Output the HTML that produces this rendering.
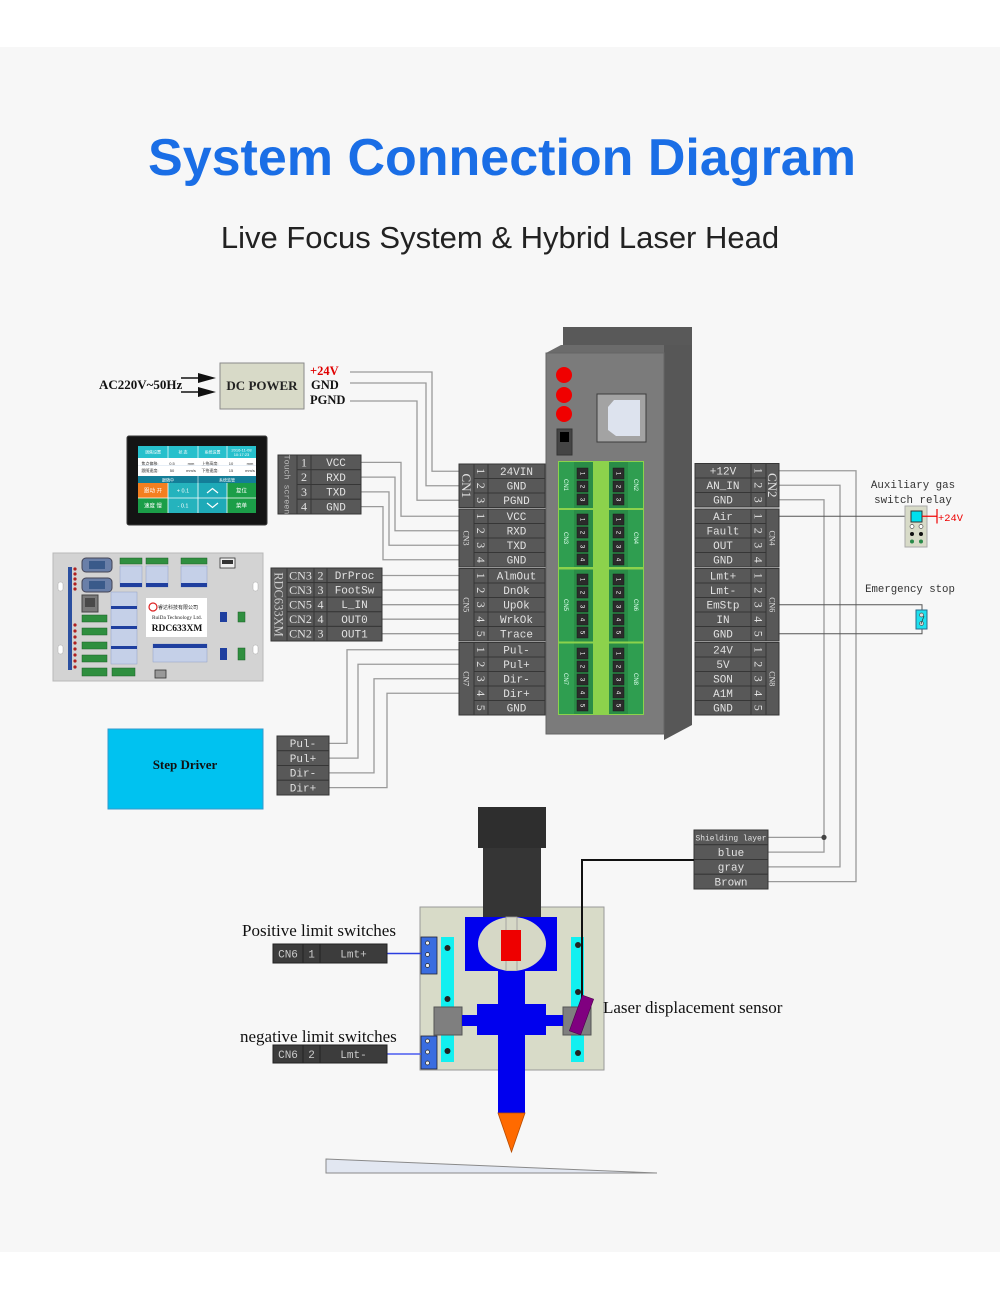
<!DOCTYPE html>
<html><head><meta charset="utf-8"><style>
html,body{margin:0;padding:0;background:#fff;}
svg{display:block}
.c{fill:#585858;stroke:#363636;stroke-width:1}
.d{fill:#3c3c3c;stroke:#222;stroke-width:1}
.t{font-family:"Liberation Mono",monospace;font-size:11px;fill:#e2e2e2;text-anchor:middle}
.n{font-family:"Liberation Serif",serif;font-size:12px;fill:#e2e2e2;text-anchor:middle}
.w{fill:none;stroke:#9a9a9a;stroke-width:1.3}
.k{fill:none;stroke:#555;stroke-width:1}
.bs{font-family:"Liberation Serif",serif;font-weight:bold}
.sq{fill:#2b2b2b;stroke:#1a1a1a;stroke-width:.5}
.sn{font-family:"Liberation Sans",sans-serif;font-size:6px;fill:#fff;text-anchor:middle}
.gl{font-family:"Liberation Sans",sans-serif;font-size:6px;fill:#dfe;text-anchor:middle}
.ts{font-family:"Liberation Sans","Noto Sans CJK SC",sans-serif;font-size:4px;text-anchor:middle}
.lbl{font-family:"Liberation Serif",serif;font-size:17px;fill:#111}
.mono{font-family:"Liberation Mono",monospace;fill:#333}
</style></head><body>
<svg width="1000" height="1299" viewBox="0 0 1000 1299" xmlns="http://www.w3.org/2000/svg">
<rect x="0" y="0" width="1000" height="1299" fill="#ffffff"/>
<rect x="0" y="47" width="1000" height="1205" fill="#f7f7f7"/>

<!-- Titles -->
<text x="502" y="175" text-anchor="middle" font-family="Liberation Sans, sans-serif" font-weight="bold" font-size="52" fill="#1a6ee6">System Connection Diagram</text>
<text x="500" y="248" text-anchor="middle" font-family="Liberation Sans, sans-serif" font-size="31" fill="#222">Live Focus System &amp; Hybrid Laser Head</text>

<!-- AC / DC power -->
<text class="bs" x="99" y="389" font-size="13" fill="#111">AC220V~50Hz</text>
<line x1="181" y1="378" x2="200" y2="378" stroke="#111" stroke-width="1.5"/>
<polygon points="198,373 216,378 198,383" fill="#111"/>
<line x1="181" y1="392" x2="200" y2="392" stroke="#111" stroke-width="1.5"/>
<polygon points="198,387 216,392 198,397" fill="#111"/>
<rect x="220" y="363" width="84" height="46" fill="#d8dac8" stroke="#8a8a8a" stroke-width="1"/>
<text class="bs" x="262" y="390" font-size="13" text-anchor="middle" fill="#222">DC POWER</text>
<text class="bs" x="310" y="375" font-size="12.5" fill="#e00000">+24V</text>
<text class="bs" x="311" y="389" font-size="12.5" fill="#111">GND</text>
<text class="bs" x="310" y="404" font-size="12.5" fill="#111">PGND</text>

<!-- wires left -->
<polyline class="w" points="350,372 432,372 432,471.25 459,471.25"/>
<polyline class="w" points="350,383 426,383 426,485.75 459,485.75"/>
<polyline class="w" points="350,401 417,401 417,500.25 459,500.25"/>
<polyline class="w" points="361,462.4 401,462.4 401,516.25 459,516.25"/>
<polyline class="w" points="361,477.1 395,477.1 395,530.75 459,530.75"/>
<polyline class="w" points="361,491.9 389,491.9 389,545.25 459,545.25"/>
<polyline class="w" points="361,506.6 383,506.6 383,559.75 459,559.75"/>
<line class="w" x1="382" y1="575.5" x2="459" y2="575.5"/>
<line class="w" x1="382" y1="590" x2="459" y2="590"/>
<line class="w" x1="382" y1="604.7" x2="459" y2="604.7"/>
<line class="w" x1="382" y1="619.2" x2="459" y2="619.2"/>
<line class="w" x1="382" y1="633.7" x2="459" y2="633.7"/>
<polyline class="w" points="329,743.4 347,743.4 347,649.75 459,649.75"/>
<polyline class="w" points="329,758.1 358,758.1 358,664.25 459,664.25"/>
<polyline class="w" points="329,772.9 374,772.9 374,678.75 459,678.75"/>
<polyline class="w" points="329,787.6 387,787.6 387,693.25 459,693.25"/>

<!-- wires right -->
<polyline class="w" points="779,470.75 856,470.75 856,881.6 768,881.6"/>
<polyline class="w" points="779,485.25 840,485.25 840,866.9 768,866.9"/>
<polyline class="w" points="779,499.75 824,499.75 824,837.4 768,837.4"/>
<polyline class="w" points="768,852.1 824,852.1 824,837.4"/>
<circle cx="824" cy="837.4" r="2.6" fill="#444"/>
<line class="k" x1="779" y1="516.25" x2="911" y2="516.25"/>
<polyline class="k" points="779,604.75 922,604.75 922,611"/>
<polyline class="k" points="779,633.75 922,633.75 922,628"/>

<!-- Touch screen -->
<rect x="127" y="436" width="140" height="89" rx="2" fill="#141414" stroke="#3a3a3a"/>
<rect x="138" y="446" width="118" height="67" fill="#fff"/>
<rect x="138" y="446" width="118" height="12" fill="#27c0cc"/>
<line x1="168" y1="446" x2="168" y2="458" stroke="#fff" stroke-width=".7"/>
<line x1="198" y1="446" x2="198" y2="458" stroke="#fff" stroke-width=".7"/>
<line x1="227" y1="446" x2="227" y2="458" stroke="#fff" stroke-width=".7"/>
<text class="ts" x="153" y="453.5" fill="#fff">调焦设置</text>
<text class="ts" x="183" y="453.5" fill="#fff">状 态</text>
<text class="ts" x="212.5" y="453.5" fill="#fff">系统设置</text>
<text class="ts" x="241.5" y="451.5" fill="#fff">2016-11-08</text>
<text class="ts" x="241.5" y="456" fill="#fff">10:17:23</text>
<text class="ts" x="150" y="465" fill="#333">焦点偏移:</text>
<text class="ts" x="172" y="465" fill="#333">0.5</text>
<text class="ts" x="191" y="465" fill="#333">mm</text>
<text class="ts" x="210" y="465" fill="#333">上抬高度:</text>
<text class="ts" x="231" y="465" fill="#333">10</text>
<text class="ts" x="250" y="465" fill="#333">mm</text>
<text class="ts" x="150" y="472" fill="#333">跟随速度:</text>
<text class="ts" x="172" y="472" fill="#333">50</text>
<text class="ts" x="191" y="472" fill="#333">mm/s</text>
<text class="ts" x="210" y="472" fill="#333">下抬速度:</text>
<text class="ts" x="231" y="472" fill="#333">15</text>
<text class="ts" x="250" y="472" fill="#333">mm/s</text>
<line x1="138" y1="465.5" x2="256" y2="465.5" stroke="#cde" stroke-width=".5"/>
<rect x="138" y="476" width="118" height="7" fill="#137e98"/>
<line x1="198" y1="476" x2="198" y2="483" stroke="#fff" stroke-width=".6"/>
<text class="ts" x="168" y="481.3" fill="#fff">跟随中</text>
<text class="ts" x="227" y="481.3" fill="#fff">系统监管</text>
<rect x="138" y="483" width="30" height="15" fill="#f47f20"/>
<rect x="168" y="483" width="30" height="15" fill="#25b3bd"/>
<rect x="198" y="483" width="29" height="15" fill="#1eaab8"/>
<rect x="227" y="483" width="29" height="15" fill="#1b9e48"/>
<rect x="138" y="498" width="30" height="15" fill="#1b9e48"/>
<rect x="168" y="498" width="30" height="15" fill="#25b3bd"/>
<rect x="198" y="498" width="29" height="15" fill="#1eaab8"/>
<rect x="227" y="498" width="29" height="15" fill="#1b9e48"/>
<g stroke="#fff" stroke-width=".8"><line x1="138" y1="498" x2="256" y2="498"/><line x1="168" y1="483" x2="168" y2="513"/><line x1="198" y1="483" x2="198" y2="513"/><line x1="227" y1="483" x2="227" y2="513"/></g>
<text class="ts" x="153" y="492.5" fill="#fff" style="font-size:5.5px">跟动 开</text>
<text class="ts" x="183" y="492.5" fill="#fff" style="font-size:5.5px">+ 0.1</text>
<text class="ts" x="241.5" y="492.5" fill="#fff" style="font-size:5.5px">复位</text>
<text class="ts" x="153" y="507.5" fill="#fff" style="font-size:5.5px">速度 慢</text>
<text class="ts" x="183" y="507.5" fill="#fff" style="font-size:5.5px">- 0.1</text>
<text class="ts" x="241.5" y="507.5" fill="#fff" style="font-size:5.5px">菜单</text>
<polyline points="207,493 212.5,488.5 218,493" fill="none" stroke="#fff" stroke-width="1.2"/>
<polyline points="207,503 212.5,507.5 218,503" fill="none" stroke="#fff" stroke-width="1.2"/>

<!-- Touch screen connector -->
<rect class="c" x="278" y="455" width="19" height="59"/>
<text class="t" transform="translate(287.5,484.5) rotate(90)" dy="3" style="fill:#bbb;font-size:8.3px">Touch screen</text>
<rect class="c" x="297" y="455" width="14" height="14.75"/><rect class="c" x="311" y="455" width="50" height="14.75"/>
<rect class="c" x="297" y="469.75" width="14" height="14.75"/><rect class="c" x="311" y="469.75" width="50" height="14.75"/>
<rect class="c" x="297" y="484.5" width="14" height="14.75"/><rect class="c" x="311" y="484.5" width="50" height="14.75"/>
<rect class="c" x="297" y="499.25" width="14" height="14.75"/><rect class="c" x="311" y="499.25" width="50" height="14.75"/>
<text class="n" x="304" y="466.5">1</text><text class="t" x="336" y="466.2">VCC</text>
<text class="n" x="304" y="481.2">2</text><text class="t" x="336" y="481">RXD</text>
<text class="n" x="304" y="496">3</text><text class="t" x="336" y="495.7">TXD</text>
<text class="n" x="304" y="510.7">4</text><text class="t" x="336" y="510.5">GND</text>

<!-- RDC633XM board -->
<rect x="53" y="553" width="210" height="128" fill="#d3d3d3" stroke="#b8b8b8"/>
<rect x="58" y="582" width="5" height="9" rx="2" fill="#fff" stroke="#aaa" stroke-width=".5"/>
<rect x="58" y="645" width="5" height="9" rx="2" fill="#fff" stroke="#aaa" stroke-width=".5"/>
<rect x="253" y="582" width="5" height="9" rx="2" fill="#fff" stroke="#aaa" stroke-width=".5"/>
<rect x="253" y="645" width="5" height="9" rx="2" fill="#fff" stroke="#aaa" stroke-width=".5"/>
<rect x="68" y="567" width="4" height="103" fill="#2a4fa0"/>
<g fill="#b02020"><circle cx="75" cy="569" r="1.6"/><circle cx="75" cy="574" r="1.6"/><circle cx="75" cy="579" r="1.6"/><circle cx="75" cy="584" r="1.6"/><circle cx="75" cy="589" r="1.6"/><circle cx="75" cy="625" r="1.6"/><circle cx="75" cy="631" r="1.6"/><circle cx="75" cy="637" r="1.6"/><circle cx="75" cy="643" r="1.6"/><circle cx="75" cy="649" r="1.6"/><circle cx="75" cy="655" r="1.6"/><circle cx="75" cy="661" r="1.6"/><circle cx="75" cy="667" r="1.6"/></g>
<rect x="82" y="558" width="30" height="14" rx="4" fill="#6a7fa8" stroke="#445"/>
<rect x="89" y="561" width="16" height="8" fill="#3a5a8a"/>
<rect x="82" y="578" width="30" height="14" rx="4" fill="#6a7fa8" stroke="#445"/>
<rect x="89" y="581" width="16" height="8" fill="#3a5a8a"/>
<rect x="82" y="595" width="16" height="17" fill="#7a7a7a" stroke="#444"/>
<rect x="85" y="598" width="10" height="9" fill="#4a4a4a"/>
<g fill="#2f8f3f" stroke="#1d5e28" stroke-width=".5">
<rect x="82" y="615" width="25" height="7"/><rect x="82" y="628" width="25" height="7"/><rect x="82" y="642" width="25" height="7"/><rect x="82" y="655" width="25" height="7"/><rect x="82" y="668" width="25" height="8"/><rect x="112" y="668" width="23" height="8"/>
<rect x="120" y="558" width="22" height="6"/><rect x="146" y="558" width="22" height="6"/><rect x="181" y="558" width="26" height="6"/>
<rect x="238" y="612" width="7" height="10"/><rect x="238" y="648" width="7" height="12"/>
</g>
<g fill="#c5d0e8" stroke="#8fa0c8" stroke-width=".5">
<rect x="120" y="566" width="22" height="21"/><rect x="146" y="566" width="22" height="21"/><rect x="181" y="566" width="26" height="21"/>
<rect x="111" y="592" width="26" height="72"/><rect x="153" y="644" width="54" height="18"/>
</g>
<g fill="#1f3f9f">
<rect x="120" y="583" width="22" height="4"/><rect x="146" y="583" width="22" height="4"/><rect x="181" y="583" width="26" height="4"/>
<rect x="111" y="606" width="26" height="3"/><rect x="111" y="626" width="26" height="3"/><rect x="111" y="646" width="26" height="3"/>
<rect x="153" y="644" width="54" height="4"/>
<rect x="220" y="612" width="7" height="10"/><rect x="220" y="648" width="7" height="12"/>
</g>
<rect x="220" y="558" width="15" height="10" fill="#eee" stroke="#333" stroke-width=".8"/>
<rect x="222" y="560" width="11" height="4" fill="#333"/>
<rect x="155" y="670" width="11" height="8" fill="#999" stroke="#333" stroke-width=".8"/>
<rect x="146" y="598" width="61" height="39" fill="#fff"/>
<circle cx="153" cy="607" r="4" fill="none" stroke="#d22" stroke-width="1.2"/>
<text x="158" y="609" font-family="Liberation Sans, Noto Sans CJK SC, sans-serif" font-size="5" fill="#222">睿达科技有限公司</text>
<text x="152" y="619" font-family="Liberation Serif, serif" font-size="5.3" fill="#222">RuiDa Technology Ltd.</text>
<text class="bs" x="177" y="631" font-size="9.5" text-anchor="middle" fill="#111">RDC633XM</text>

<!-- RDC connector block -->
<rect class="c" x="271" y="568" width="16" height="73"/>
<text class="n" transform="translate(279,604.5) rotate(90)" dy="4.5" style="fill:#ccc;font-size:12.5px">RDC633XM</text>
<g>
<rect class="c" x="287" y="568" width="27" height="14.6"/><rect class="c" x="314" y="568" width="13" height="14.6"/><rect class="c" x="327" y="568" width="55" height="14.6"/>
<rect class="c" x="287" y="582.6" width="27" height="14.6"/><rect class="c" x="314" y="582.6" width="13" height="14.6"/><rect class="c" x="327" y="582.6" width="55" height="14.6"/>
<rect class="c" x="287" y="597.2" width="27" height="14.6"/><rect class="c" x="314" y="597.2" width="13" height="14.6"/><rect class="c" x="327" y="597.2" width="55" height="14.6"/>
<rect class="c" x="287" y="611.8" width="27" height="14.6"/><rect class="c" x="314" y="611.8" width="13" height="14.6"/><rect class="c" x="327" y="611.8" width="55" height="14.6"/>
<rect class="c" x="287" y="626.4" width="27" height="14.6"/><rect class="c" x="314" y="626.4" width="13" height="14.6"/><rect class="c" x="327" y="626.4" width="55" height="14.6"/>
</g>
<text class="n" x="300.5" y="579.3">CN3</text><text class="n" x="320.5" y="579.3">2</text><text class="t" x="354.5" y="579">DrProc</text>
<text class="n" x="300.5" y="593.9">CN3</text><text class="n" x="320.5" y="593.9">3</text><text class="t" x="354.5" y="593.6">FootSw</text>
<text class="n" x="300.5" y="608.5">CN5</text><text class="n" x="320.5" y="608.5">4</text><text class="t" x="354.5" y="608.2">L_IN</text>
<text class="n" x="300.5" y="623.1">CN2</text><text class="n" x="320.5" y="623.1">4</text><text class="t" x="354.5" y="622.8">OUT0</text>
<text class="n" x="300.5" y="637.7">CN2</text><text class="n" x="320.5" y="637.7">3</text><text class="t" x="354.5" y="637.4">OUT1</text>

<!-- Step driver -->
<rect x="108" y="729" width="155" height="80" fill="#00c2f0" stroke="#3399cc"/>
<text class="bs" x="185" y="769" font-size="13" text-anchor="middle" fill="#111">Step Driver</text>
<rect class="c" x="277" y="736" width="52" height="14.75"/>
<rect class="c" x="277" y="750.75" width="52" height="14.75"/>
<rect class="c" x="277" y="765.5" width="52" height="14.75"/>
<rect class="c" x="277" y="780.25" width="52" height="14.75"/>
<text class="t" x="303" y="747.2">Pul-</text>
<text class="t" x="303" y="762">Pul+</text>
<text class="t" x="303" y="776.7">Dir-</text>
<text class="t" x="303" y="791.5">Dir+</text>

<!-- Central device -->
<rect x="563" y="327" width="129" height="20" fill="#595959"/>
<polygon points="561,345 664,345 664,353 546,353" fill="#6b6b6b"/>
<polygon points="664,345 692,345 692,725 664,740" fill="#575757"/>
<rect x="546" y="353" width="118" height="381" fill="#7b7b7b" stroke="#666"/>
<circle cx="564" cy="375" r="8" fill="#f00000"/>
<circle cx="564" cy="395" r="8" fill="#f00000"/>
<circle cx="564" cy="414" r="8" fill="#f00000"/>
<rect x="557" y="429" width="15" height="26" fill="#444" stroke="#333"/>
<rect x="560" y="432" width="9" height="10" fill="#000"/>
<rect x="597" y="394" width="49" height="48" fill="#a3a3a3" stroke="#3c3c3c" stroke-width="1"/>
<polygon points="614,400 640,400 640,436 616,436 608,430 608,407" fill="#dde3ee"/>

<!-- green terminal area -->
<rect x="558" y="461" width="86" height="254" fill="#8cd24c"/>
<g fill="#2f9e50">
<rect x="559" y="462" width="34" height="46"/><rect x="609" y="462" width="34" height="46"/>
<rect x="559" y="510" width="34" height="57"/><rect x="609" y="510" width="34" height="57"/>
<rect x="559" y="569.5" width="34" height="72"/><rect x="609" y="569.5" width="34" height="72"/>
<rect x="559" y="643.5" width="34" height="70.5"/><rect x="609" y="643.5" width="34" height="70.5"/>
</g>
<g fill="#2a8c47">
<rect x="574" y="462" width="19" height="46"/><rect x="609" y="462" width="19" height="46"/>
<rect x="574" y="510" width="19" height="57"/><rect x="609" y="510" width="19" height="57"/>
<rect x="574" y="569.5" width="19" height="72"/><rect x="609" y="569.5" width="19" height="72"/>
<rect x="574" y="643.5" width="19" height="70.5"/><rect x="609" y="643.5" width="19" height="70.5"/>
</g>
<text class="gl" transform="translate(566,485) rotate(90)" dy="2">CN1</text>
<text class="gl" transform="translate(636,485) rotate(90)" dy="2">CN2</text>
<text class="gl" transform="translate(566,538) rotate(90)" dy="2">CN3</text>
<text class="gl" transform="translate(636,538) rotate(90)" dy="2">CN4</text>
<text class="gl" transform="translate(566,605) rotate(90)" dy="2">CN5</text>
<text class="gl" transform="translate(636,605) rotate(90)" dy="2">CN6</text>
<text class="gl" transform="translate(566,679) rotate(90)" dy="2">CN7</text>
<text class="gl" transform="translate(636,679) rotate(90)" dy="2">CN8</text>
<!-- squares -->
<g>
<rect class="sq" x="577" y="468" width="11" height="11"/><rect class="sq" x="613" y="468" width="11" height="11"/>
<rect class="sq" x="577" y="481" width="11" height="11"/><rect class="sq" x="613" y="481" width="11" height="11"/>
<rect class="sq" x="577" y="494" width="11" height="11"/><rect class="sq" x="613" y="494" width="11" height="11"/>
<rect class="sq" x="577" y="514" width="11" height="11"/><rect class="sq" x="613" y="514" width="11" height="11"/>
<rect class="sq" x="577" y="527" width="11" height="11"/><rect class="sq" x="613" y="527" width="11" height="11"/>
<rect class="sq" x="577" y="541" width="11" height="11"/><rect class="sq" x="613" y="541" width="11" height="11"/>
<rect class="sq" x="577" y="554" width="11" height="11"/><rect class="sq" x="613" y="554" width="11" height="11"/>
<rect class="sq" x="577" y="574" width="11" height="11"/><rect class="sq" x="613" y="574" width="11" height="11"/>
<rect class="sq" x="577" y="587" width="11" height="11"/><rect class="sq" x="613" y="587" width="11" height="11"/>
<rect class="sq" x="577" y="601" width="11" height="11"/><rect class="sq" x="613" y="601" width="11" height="11"/>
<rect class="sq" x="577" y="614" width="11" height="11"/><rect class="sq" x="613" y="614" width="11" height="11"/>
<rect class="sq" x="577" y="627" width="11" height="11"/><rect class="sq" x="613" y="627" width="11" height="11"/>
<rect class="sq" x="577" y="648" width="11" height="11"/><rect class="sq" x="613" y="648" width="11" height="11"/>
<rect class="sq" x="577" y="661" width="11" height="11"/><rect class="sq" x="613" y="661" width="11" height="11"/>
<rect class="sq" x="577" y="674" width="11" height="11"/><rect class="sq" x="613" y="674" width="11" height="11"/>
<rect class="sq" x="577" y="687" width="11" height="11"/><rect class="sq" x="613" y="687" width="11" height="11"/>
<rect class="sq" x="577" y="700" width="11" height="11"/><rect class="sq" x="613" y="700" width="11" height="11"/>
</g>
<g>
<text class="sn" transform="translate(582.5,473.5) rotate(90)" dy="2">1</text><text class="sn" transform="translate(618.5,473.5) rotate(90)" dy="2">1</text>
<text class="sn" transform="translate(582.5,486.5) rotate(90)" dy="2">2</text><text class="sn" transform="translate(618.5,486.5) rotate(90)" dy="2">2</text>
<text class="sn" transform="translate(582.5,499.5) rotate(90)" dy="2">3</text><text class="sn" transform="translate(618.5,499.5) rotate(90)" dy="2">3</text>
<text class="sn" transform="translate(582.5,519.5) rotate(90)" dy="2">1</text><text class="sn" transform="translate(618.5,519.5) rotate(90)" dy="2">1</text>
<text class="sn" transform="translate(582.5,532.5) rotate(90)" dy="2">2</text><text class="sn" transform="translate(618.5,532.5) rotate(90)" dy="2">2</text>
<text class="sn" transform="translate(582.5,546.5) rotate(90)" dy="2">3</text><text class="sn" transform="translate(618.5,546.5) rotate(90)" dy="2">3</text>
<text class="sn" transform="translate(582.5,559.5) rotate(90)" dy="2">4</text><text class="sn" transform="translate(618.5,559.5) rotate(90)" dy="2">4</text>
<text class="sn" transform="translate(582.5,579.5) rotate(90)" dy="2">1</text><text class="sn" transform="translate(618.5,579.5) rotate(90)" dy="2">1</text>
<text class="sn" transform="translate(582.5,592.5) rotate(90)" dy="2">2</text><text class="sn" transform="translate(618.5,592.5) rotate(90)" dy="2">2</text>
<text class="sn" transform="translate(582.5,606.5) rotate(90)" dy="2">3</text><text class="sn" transform="translate(618.5,606.5) rotate(90)" dy="2">3</text>
<text class="sn" transform="translate(582.5,619.5) rotate(90)" dy="2">4</text><text class="sn" transform="translate(618.5,619.5) rotate(90)" dy="2">4</text>
<text class="sn" transform="translate(582.5,632.5) rotate(90)" dy="2">5</text><text class="sn" transform="translate(618.5,632.5) rotate(90)" dy="2">5</text>
<text class="sn" transform="translate(582.5,653.5) rotate(90)" dy="2">1</text><text class="sn" transform="translate(618.5,653.5) rotate(90)" dy="2">1</text>
<text class="sn" transform="translate(582.5,666.5) rotate(90)" dy="2">2</text><text class="sn" transform="translate(618.5,666.5) rotate(90)" dy="2">2</text>
<text class="sn" transform="translate(582.5,679.5) rotate(90)" dy="2">3</text><text class="sn" transform="translate(618.5,679.5) rotate(90)" dy="2">3</text>
<text class="sn" transform="translate(582.5,692.5) rotate(90)" dy="2">4</text><text class="sn" transform="translate(618.5,692.5) rotate(90)" dy="2">4</text>
<text class="sn" transform="translate(582.5,705.5) rotate(90)" dy="2">5</text><text class="sn" transform="translate(618.5,705.5) rotate(90)" dy="2">5</text>
</g>

<!-- Left-center connector blocks -->
<!-- CN1 -->
<rect class="c" x="459" y="464" width="15" height="43.5"/>
<text class="n" transform="translate(466.5,485.75) rotate(90)" dy="4.5" style="font-size:13px">CN1</text>
<rect class="c" x="474" y="464" width="14" height="14.5"/><rect class="c" x="488" y="464" width="57" height="14.5"/>
<rect class="c" x="474" y="478.5" width="14" height="14.5"/><rect class="c" x="488" y="478.5" width="57" height="14.5"/>
<rect class="c" x="474" y="493" width="14" height="14.5"/><rect class="c" x="488" y="493" width="57" height="14.5"/>
<text class="n" transform="translate(481,471.25) rotate(90)" dy="4">1</text><text class="t" x="516.5" y="475">24VIN</text>
<text class="n" transform="translate(481,485.75) rotate(90)" dy="4">2</text><text class="t" x="516.5" y="489.5">GND</text>
<text class="n" transform="translate(481,500.25) rotate(90)" dy="4">3</text><text class="t" x="516.5" y="504">PGND</text>
<!-- CN3 -->
<rect class="c" x="459" y="509" width="15" height="58"/>
<text class="n" transform="translate(466.5,538) rotate(90)" dy="3" style="font-size:8px">CN3</text>
<rect class="c" x="474" y="509" width="14" height="14.5"/><rect class="c" x="488" y="509" width="57" height="14.5"/>
<rect class="c" x="474" y="523.5" width="14" height="14.5"/><rect class="c" x="488" y="523.5" width="57" height="14.5"/>
<rect class="c" x="474" y="538" width="14" height="14.5"/><rect class="c" x="488" y="538" width="57" height="14.5"/>
<rect class="c" x="474" y="552.5" width="14" height="14.5"/><rect class="c" x="488" y="552.5" width="57" height="14.5"/>
<text class="n" transform="translate(481,516.25) rotate(90)" dy="4">1</text><text class="t" x="516.5" y="520">VCC</text>
<text class="n" transform="translate(481,530.75) rotate(90)" dy="4">2</text><text class="t" x="516.5" y="534.5">RXD</text>
<text class="n" transform="translate(481,545.25) rotate(90)" dy="4">3</text><text class="t" x="516.5" y="549">TXD</text>
<text class="n" transform="translate(481,559.75) rotate(90)" dy="4">4</text><text class="t" x="516.5" y="563.5">GND</text>
<!-- CN5 -->
<rect class="c" x="459" y="568.5" width="15" height="72.5"/>
<text class="n" transform="translate(466.5,604.75) rotate(90)" dy="3" style="font-size:8px">CN5</text>
<rect class="c" x="474" y="568.5" width="14" height="14.5"/><rect class="c" x="488" y="568.5" width="57" height="14.5"/>
<rect class="c" x="474" y="583" width="14" height="14.5"/><rect class="c" x="488" y="583" width="57" height="14.5"/>
<rect class="c" x="474" y="597.5" width="14" height="14.5"/><rect class="c" x="488" y="597.5" width="57" height="14.5"/>
<rect class="c" x="474" y="612" width="14" height="14.5"/><rect class="c" x="488" y="612" width="57" height="14.5"/>
<rect class="c" x="474" y="626.5" width="14" height="14.5"/><rect class="c" x="488" y="626.5" width="57" height="14.5"/>
<text class="n" transform="translate(481,575.75) rotate(90)" dy="4">1</text><text class="t" x="516.5" y="579.5">AlmOut</text>
<text class="n" transform="translate(481,590.25) rotate(90)" dy="4">2</text><text class="t" x="516.5" y="594">DnOk</text>
<text class="n" transform="translate(481,604.75) rotate(90)" dy="4">3</text><text class="t" x="516.5" y="608.5">UpOk</text>
<text class="n" transform="translate(481,619.25) rotate(90)" dy="4">4</text><text class="t" x="516.5" y="623">WrkOk</text>
<text class="n" transform="translate(481,633.75) rotate(90)" dy="4">5</text><text class="t" x="516.5" y="637.5">Trace</text>
<!-- CN7 -->
<rect class="c" x="459" y="642.5" width="15" height="72.5"/>
<text class="n" transform="translate(466.5,678.75) rotate(90)" dy="3" style="font-size:8px">CN7</text>
<rect class="c" x="474" y="642.5" width="14" height="14.5"/><rect class="c" x="488" y="642.5" width="57" height="14.5"/>
<rect class="c" x="474" y="657" width="14" height="14.5"/><rect class="c" x="488" y="657" width="57" height="14.5"/>
<rect class="c" x="474" y="671.5" width="14" height="14.5"/><rect class="c" x="488" y="671.5" width="57" height="14.5"/>
<rect class="c" x="474" y="686" width="14" height="14.5"/><rect class="c" x="488" y="686" width="57" height="14.5"/>
<rect class="c" x="474" y="700.5" width="14" height="14.5"/><rect class="c" x="488" y="700.5" width="57" height="14.5"/>
<text class="n" transform="translate(481,649.75) rotate(90)" dy="4">1</text><text class="t" x="516.5" y="653.5">Pul-</text>
<text class="n" transform="translate(481,664.25) rotate(90)" dy="4">2</text><text class="t" x="516.5" y="668">Pul+</text>
<text class="n" transform="translate(481,678.75) rotate(90)" dy="4">3</text><text class="t" x="516.5" y="682.5">Dir-</text>
<text class="n" transform="translate(481,693.25) rotate(90)" dy="4">4</text><text class="t" x="516.5" y="697">Dir+</text>
<text class="n" transform="translate(481,707.75) rotate(90)" dy="4">5</text><text class="t" x="516.5" y="711.5">GND</text>

<!-- Right connector blocks -->
<!-- CN2 -->
<rect class="c" x="766" y="463.5" width="13" height="43.5"/>
<text class="n" transform="translate(772.5,485.25) rotate(90)" dy="4.5" style="font-size:13px">CN2</text>
<rect class="c" x="695" y="463.5" width="56" height="14.5"/><rect class="c" x="751" y="463.5" width="15" height="14.5"/>
<rect class="c" x="695" y="478" width="56" height="14.5"/><rect class="c" x="751" y="478" width="15" height="14.5"/>
<rect class="c" x="695" y="492.5" width="56" height="14.5"/><rect class="c" x="751" y="492.5" width="15" height="14.5"/>
<text class="t" x="723" y="474.5">+12V</text><text class="n" transform="translate(758.5,470.75) rotate(90)" dy="4">1</text>
<text class="t" x="723" y="489">AN_IN</text><text class="n" transform="translate(758.5,485.25) rotate(90)" dy="4">2</text>
<text class="t" x="723" y="503.5">GND</text><text class="n" transform="translate(758.5,499.75) rotate(90)" dy="4">3</text>
<!-- CN4 -->
<rect class="c" x="766" y="509" width="13" height="58"/>
<text class="n" transform="translate(772.5,538) rotate(90)" dy="3" style="font-size:8px">CN4</text>
<rect class="c" x="695" y="509" width="56" height="14.5"/><rect class="c" x="751" y="509" width="15" height="14.5"/>
<rect class="c" x="695" y="523.5" width="56" height="14.5"/><rect class="c" x="751" y="523.5" width="15" height="14.5"/>
<rect class="c" x="695" y="538" width="56" height="14.5"/><rect class="c" x="751" y="538" width="15" height="14.5"/>
<rect class="c" x="695" y="552.5" width="56" height="14.5"/><rect class="c" x="751" y="552.5" width="15" height="14.5"/>
<text class="t" x="723" y="520">Air</text><text class="n" transform="translate(758.5,516.25) rotate(90)" dy="4">1</text>
<text class="t" x="723" y="534.5">Fault</text><text class="n" transform="translate(758.5,530.75) rotate(90)" dy="4">2</text>
<text class="t" x="723" y="549">OUT</text><text class="n" transform="translate(758.5,545.25) rotate(90)" dy="4">3</text>
<text class="t" x="723" y="563.5">GND</text><text class="n" transform="translate(758.5,559.75) rotate(90)" dy="4">4</text>
<!-- CN6 -->
<rect class="c" x="766" y="568.5" width="13" height="72.5"/>
<text class="n" transform="translate(772.5,604.75) rotate(90)" dy="3" style="font-size:8px">CN6</text>
<rect class="c" x="695" y="568.5" width="56" height="14.5"/><rect class="c" x="751" y="568.5" width="15" height="14.5"/>
<rect class="c" x="695" y="583" width="56" height="14.5"/><rect class="c" x="751" y="583" width="15" height="14.5"/>
<rect class="c" x="695" y="597.5" width="56" height="14.5"/><rect class="c" x="751" y="597.5" width="15" height="14.5"/>
<rect class="c" x="695" y="612" width="56" height="14.5"/><rect class="c" x="751" y="612" width="15" height="14.5"/>
<rect class="c" x="695" y="626.5" width="56" height="14.5"/><rect class="c" x="751" y="626.5" width="15" height="14.5"/>
<text class="t" x="723" y="579.5">Lmt+</text><text class="n" transform="translate(758.5,575.75) rotate(90)" dy="4">1</text>
<text class="t" x="723" y="594">Lmt-</text><text class="n" transform="translate(758.5,590.25) rotate(90)" dy="4">2</text>
<text class="t" x="723" y="608.5">EmStp</text><text class="n" transform="translate(758.5,604.75) rotate(90)" dy="4">3</text>
<text class="t" x="723" y="623">IN</text><text class="n" transform="translate(758.5,619.25) rotate(90)" dy="4">4</text>
<text class="t" x="723" y="637.5">GND</text><text class="n" transform="translate(758.5,633.75) rotate(90)" dy="4">5</text>
<!-- CN8 -->
<rect class="c" x="766" y="642.5" width="13" height="72.5"/>
<text class="n" transform="translate(772.5,678.75) rotate(90)" dy="3" style="font-size:8px">CN8</text>
<rect class="c" x="695" y="642.5" width="56" height="14.5"/><rect class="c" x="751" y="642.5" width="15" height="14.5"/>
<rect class="c" x="695" y="657" width="56" height="14.5"/><rect class="c" x="751" y="657" width="15" height="14.5"/>
<rect class="c" x="695" y="671.5" width="56" height="14.5"/><rect class="c" x="751" y="671.5" width="15" height="14.5"/>
<rect class="c" x="695" y="686" width="56" height="14.5"/><rect class="c" x="751" y="686" width="15" height="14.5"/>
<rect class="c" x="695" y="700.5" width="56" height="14.5"/><rect class="c" x="751" y="700.5" width="15" height="14.5"/>
<text class="t" x="723" y="653.5">24V</text><text class="n" transform="translate(758.5,649.75) rotate(90)" dy="4">1</text>
<text class="t" x="723" y="668">5V</text><text class="n" transform="translate(758.5,664.25) rotate(90)" dy="4">2</text>
<text class="t" x="723" y="682.5">SON</text><text class="n" transform="translate(758.5,678.75) rotate(90)" dy="4">3</text>
<text class="t" x="723" y="697">A1M</text><text class="n" transform="translate(758.5,693.25) rotate(90)" dy="4">4</text>
<text class="t" x="723" y="711.5">GND</text><text class="n" transform="translate(758.5,707.75) rotate(90)" dy="4">5</text>

<!-- Relay -->
<text class="mono" x="913" y="488" font-size="10.8" text-anchor="middle">Auxiliary gas</text>
<text class="mono" x="913" y="503" font-size="10.8" text-anchor="middle">switch relay</text>
<rect x="905" y="506" width="22" height="41" fill="#d8dbc8" stroke="#aaa"/>
<rect x="911" y="511" width="11" height="11" fill="#00e0ee" stroke="#333"/>
<circle cx="912" cy="526.5" r="2" fill="#fff" stroke="#555" stroke-width=".7"/>
<circle cx="921" cy="526.5" r="2" fill="#fff" stroke="#555" stroke-width=".7"/>
<circle cx="912" cy="534" r="2" fill="#111"/>
<circle cx="921" cy="534" r="2" fill="#111"/>
<circle cx="912" cy="541.5" r="2" fill="#2a8a4a"/>
<circle cx="921" cy="541.5" r="2" fill="#2a8a4a"/>
<line x1="922" y1="516.25" x2="937" y2="516.25" stroke="#e00" stroke-width="1.2"/>
<line x1="937" y1="509" x2="937" y2="523.5" stroke="#e00" stroke-width="1.2"/>
<text x="938" y="521" font-family="Liberation Mono, monospace" font-size="10.4" fill="#e00">+24V</text>

<!-- Emergency stop -->
<text class="mono" x="910" y="592" font-size="10.7" text-anchor="middle">Emergency stop</text>
<rect x="916" y="610" width="11" height="19" fill="#1ee0ee" stroke="#2a6a8a"/>
<circle cx="921.5" cy="615" r="2" fill="#ddd" stroke="#555" stroke-width=".7"/>
<circle cx="921.5" cy="623.5" r="2" fill="#ddd" stroke="#555" stroke-width=".7"/>
<line x1="924" y1="616" x2="921" y2="624" stroke="#333" stroke-width=".7"/>

<!-- Shielding block -->
<rect class="c" x="694" y="830" width="74" height="14.75"/>
<rect class="c" x="694" y="844.75" width="74" height="14.75"/>
<rect class="c" x="694" y="859.5" width="74" height="14.75"/>
<rect class="c" x="694" y="874.25" width="74" height="14.75"/>
<text class="t" x="731" y="840.5" style="font-size:7.9px">Shielding layer</text>
<text class="t" x="731" y="855.9">blue</text>
<text class="t" x="731" y="870.5">gray</text>
<text class="t" x="731" y="885.4">Brown</text>

<!-- Laser head -->
<rect x="420" y="907" width="184" height="163" fill="#d8dbc8" stroke="#999"/>
<rect x="441" y="937" width="13" height="125" fill="#12f0f0"/>
<rect x="571" y="937" width="13" height="125" fill="#12f0f0"/>
<g fill="#222">
<circle cx="447.5" cy="948" r="3"/><circle cx="447.5" cy="999" r="3"/><circle cx="447.5" cy="1051" r="3"/>
<circle cx="578" cy="945" r="3"/><circle cx="578" cy="992" r="3"/><circle cx="578" cy="1053" r="3"/>
</g>
<rect x="434" y="1007" width="28" height="28" fill="#7f7f7f" stroke="#555"/>
<rect x="563" y="1007" width="28" height="28" fill="#7f7f7f" stroke="#555"/>
<rect x="478" y="807" width="68" height="41" fill="#2e2e2e"/>
<rect x="483" y="848" width="58" height="69" fill="#353535"/>
<rect x="465" y="917" width="92" height="54" fill="#0000ee"/>
<ellipse cx="512" cy="944" rx="34" ry="27" fill="#d6d8c6"/>
<rect x="506" y="917" width="11" height="54" fill="#d6d8c6" stroke="#999" stroke-width=".8"/>
<rect x="501" y="930" width="20" height="31" fill="#ee0000"/>
<rect x="498" y="971" width="27" height="142" fill="#0000ee"/>
<rect x="462" y="1015" width="101" height="11" fill="#0000ee"/>
<rect x="477" y="1004" width="69" height="31" fill="#0000ee"/>
<polygon points="498,1113 525,1113 511.5,1152" fill="#ff6a00" stroke="#b84c00" stroke-width=".8"/>
<!-- limit switch connectors -->
<rect x="421" y="937" width="16" height="37" fill="#3a6de0" stroke="#223" stroke-width=".8"/>
<rect x="421" y="1036" width="16" height="33" fill="#3a6de0" stroke="#223" stroke-width=".8"/>
<g fill="#eee" stroke="#222" stroke-width=".7">
<circle cx="427.5" cy="943" r="2"/><circle cx="427.5" cy="954.5" r="2"/><circle cx="427.5" cy="965.5" r="2"/>
<circle cx="427.5" cy="1041" r="2"/><circle cx="427.5" cy="1052" r="2"/><circle cx="427.5" cy="1063" r="2"/>
</g>
<line x1="387" y1="953.5" x2="421" y2="953.5" stroke="#2b3ee0" stroke-width="1.4"/>
<line x1="387" y1="1054" x2="421" y2="1054" stroke="#4a5cf0" stroke-width="1.4"/>
<!-- Lmt blocks -->
<rect class="d" x="273" y="944" width="30" height="19"/><rect class="d" x="303" y="944" width="17" height="19"/><rect class="d" x="320" y="944" width="67" height="19"/>
<text class="t" x="288" y="957.5" style="fill:#ccc">CN6</text><text class="t" x="311.5" y="957.5" style="fill:#ccc">1</text><text class="t" x="353.5" y="957.5" style="fill:#ccc">Lmt+</text>
<rect class="d" x="273" y="1045" width="30" height="18"/><rect class="d" x="303" y="1045" width="17" height="18"/><rect class="d" x="320" y="1045" width="67" height="18"/>
<text class="t" x="288" y="1058" style="fill:#ccc">CN6</text><text class="t" x="311.5" y="1058" style="fill:#ccc">2</text><text class="t" x="353.5" y="1058" style="fill:#ccc">Lmt-</text>
<text class="lbl" x="242" y="936">Positive limit switches</text>
<text class="lbl" x="240" y="1042">negative limit switches</text>
<!-- sensor + cable -->
<polyline points="582,1000 582,860 694,860" fill="none" stroke="#111" stroke-width="2"/>
<rect x="575.5" y="996" width="12" height="38" fill="#800080" stroke="#4a004a" stroke-width=".6" transform="rotate(20 581.5 1015)"/>
<text class="lbl" x="603" y="1013">Laser displacement sensor</text>
<!-- wedge -->
<polygon points="326,1159 657,1173 326,1173" fill="#e2e7f1" stroke="#8a8a8a" stroke-width="1"/>
</svg>
</body></html>
